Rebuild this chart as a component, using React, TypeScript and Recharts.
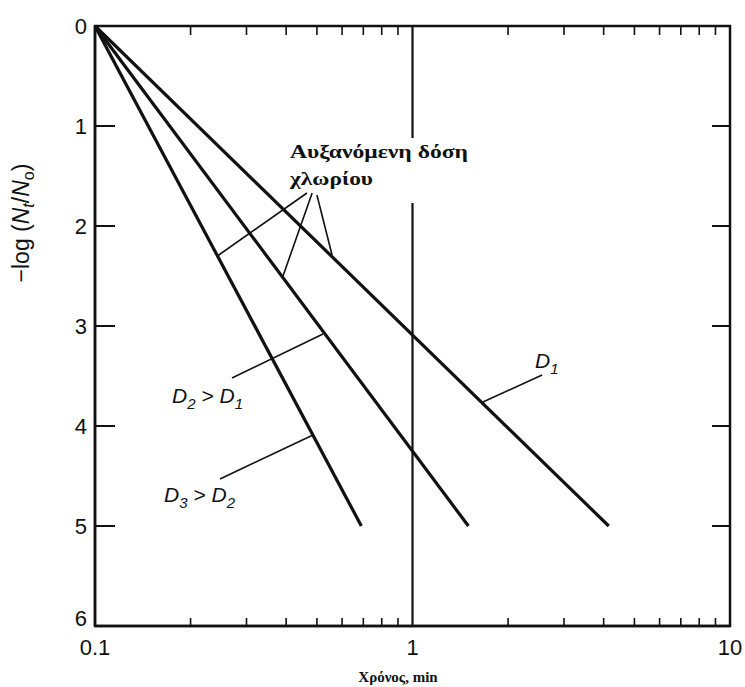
import React from 'react';
import * as R from 'recharts';
import { LineChart, Line, XAxis, YAxis, ReferenceLine } from 'recharts';

// Data (time in min, -log(Nt/No))
const seriesD1 = [{ x: 0.1, y: 0 }, { x: 4.15, y: 5 }];
const seriesD2 = [{ x: 0.1, y: 0 }, { x: 1.5, y: 5 }];
const seriesD3 = [{ x: 0.1, y: 0 }, { x: 0.69, y: 5 }];

const xDomain = [0.1, 10];
const xMajorTicks = [0.1, 1, 10];
const xAllTicks = [0.1, 0.2, 0.3, 0.4, 0.5, 0.6, 0.7, 0.8, 0.9, 1, 2, 3, 4, 5, 6, 7, 8, 9, 10];
const xMinorTicks = [0.2, 0.3, 0.4, 0.5, 0.6, 0.7, 0.8, 0.9, 2, 3, 4, 5, 6, 7, 8, 9];
const yTicks = [0, 1, 2, 3, 4, 5, 6];
const yInnerTicks = [1, 2, 3, 4, 5];

// Annotation pointer segments (data coordinates)
const pointerDose = [
  [{ x: 0.465, y: 1.67 }, { x: 0.243, y: 2.3 }],
  [{ x: 0.483, y: 1.67 }, { x: 0.391, y: 2.5 }],
  [{ x: 0.5, y: 1.69 }, { x: 0.558, y: 2.29 }],
];
const pointerD2 = [{ x: 0.27, y: 3.52 }, { x: 0.5225, y: 3.08 }];
const pointerD3 = [{ x: 0.2475, y: 4.53 }, { x: 0.486, y: 4.09 }];
const pointerD1 = [{ x: 1.667, y: 3.76 }, { x: 2.56, y: 3.49 }];
const refLineUpper = [{ x: 1, y: 0 }, { x: 1, y: 1.12 }];
const refLineLower = [{ x: 1, y: 1.77 }, { x: 1, y: 6 }];
const rightTickSegs = yInnerTicks.map((v) => [{ x: 8.78, y: v }, { x: 10, y: v }]);

const SANS = '"Liberation Sans", Arial, sans-serif';
const SERIF = '"Liberation Serif", "Times New Roman", serif';
const TICK_FS = 22;

const usePlotAreaHook: any = (R as any).usePlotArea;
const useXScaleHook: any = (R as any).useXAxisScale;

// Frame (top/right edges) and inside top ticks, placed from the chart's own plot area
const PlotFrame = () => {
  const area = usePlotAreaHook ? usePlotAreaHook() : null;
  const xScale = useXScaleHook ? useXScaleHook('bottom') : null;
  if (!area) return null;
  const toX = (v: number) => {
    const s = typeof xScale === 'function' ? xScale(v) : NaN;
    if (typeof s === 'number' && isFinite(s)) return s;
    return area.x + (area.width * Math.log10(v / xDomain[0])) / Math.log10(xDomain[1] / xDomain[0]);
  };
  return (
    <g>
      <rect x={area.x} y={area.y} width={area.width} height={area.height} fill="none" stroke="#111" strokeWidth={2.5} />
      {xMinorTicks.map((v) => (
        <line key={v} x1={toX(v)} y1={area.y} x2={toX(v)} y2={area.y + 9} stroke="#111" strokeWidth={1.6} />
      ))}
    </g>
  );
};

const BottomTick = (props: any) => {
  const { x, y, payload } = props;
  const v = payload.value;
  if (xMajorTicks.includes(v)) {
    return (
      <text x={x} y={y + 29} textAnchor="middle" fontFamily={SANS} fontSize={TICK_FS} fill="#111">
        {String(v)}
      </text>
    );
  }
  return <line x1={x} y1={y} x2={x} y2={y - 8} stroke="#111" strokeWidth={1.6} />;
};

const LeftTick = (props: any) => {
  const { x, y, payload } = props;
  const v = payload.value;
  const dyShift = v === 6 ? -8 : 0;
  return (
    <g>
      <text x={x - 8} y={y + dyShift} dy="0.36em" textAnchor="end" fontFamily={SANS} fontSize={TICK_FS} fill="#111">
        {String(v)}
      </text>
      {v > 0 && v < 6 ? <line x1={x} y1={y} x2={x + 20} y2={y} stroke="#111" strokeWidth={2} /> : null}
    </g>
  );
};

export default function App() {
  const lineProps = {
    type: 'linear' as const,
    dataKey: 'y',
    stroke: '#111',
    strokeWidth: 3.2,
    dot: false,
    activeDot: false,
    isAnimationActive: false,
  };
  return (
    <div style={{ position: 'absolute', left: 0, top: 0, background: '#fff' }}>
      <LineChart width={745} height={687} margin={{ top: 26, right: 15, bottom: 0, left: 0 }}>
        <XAxis
          xAxisId="bottom"
          type="number"
          dataKey="x"
          scale="log"
          domain={xDomain}
          allowDataOverflow
          ticks={xAllTicks}
          interval={0}
          height={61}
          tickSize={0}
          tickMargin={0}
          tickLine={false}
          tick={<BottomTick />}
          axisLine={{ stroke: '#111', strokeWidth: 2.5 }}
        />
        <YAxis
          yAxisId="left"
          type="number"
          domain={[0, 6]}
          reversed
          ticks={yTicks}
          interval={0}
          width={95}
          tickSize={0}
          tickMargin={0}
          tickLine={false}
          tick={<LeftTick />}
          axisLine={{ stroke: '#111', strokeWidth: 2.5 }}
        />

        <PlotFrame />

        {rightTickSegs.map((seg, i) => (
          <ReferenceLine key={'rt' + i} xAxisId="bottom" yAxisId="left" segment={seg} stroke="#111" strokeWidth={2} ifOverflow="visible" />
        ))}

        <ReferenceLine xAxisId="bottom" yAxisId="left" segment={refLineUpper} stroke="#111" strokeWidth={2.2} ifOverflow="visible" />
        <ReferenceLine xAxisId="bottom" yAxisId="left" segment={refLineLower} stroke="#111" strokeWidth={2.2} ifOverflow="visible" />

        {pointerDose.map((seg, i) => (
          <ReferenceLine key={'pd' + i} xAxisId="bottom" yAxisId="left" segment={seg} stroke="#111" strokeWidth={1.6} />
        ))}
        <ReferenceLine xAxisId="bottom" yAxisId="left" segment={pointerD2} stroke="#111" strokeWidth={1.6} />
        <ReferenceLine xAxisId="bottom" yAxisId="left" segment={pointerD3} stroke="#111" strokeWidth={1.6} />
        <ReferenceLine xAxisId="bottom" yAxisId="left" segment={pointerD1} stroke="#111" strokeWidth={1.6} />

        <Line {...lineProps} xAxisId="bottom" yAxisId="left" data={seriesD1} name="D1" />
        <Line {...lineProps} xAxisId="bottom" yAxisId="left" data={seriesD2} name="D2" />
        <Line {...lineProps} xAxisId="bottom" yAxisId="left" data={seriesD3} name="D3" />

        <text x={290} y={158} fontFamily={SERIF} fontWeight="bold" fontSize={19} fill="#111" textLength={178} lengthAdjust="spacingAndGlyphs">
          Αυξανόμενη δόση
        </text>
        <text x={290} y={185} fontFamily={SERIF} fontWeight="bold" fontSize={19} fill="#111" textLength={83} lengthAdjust="spacingAndGlyphs">
          χλωρίου
        </text>

        <text x={172} y={403} fontFamily={SANS} fontStyle="italic" fontSize={21} fill="#111">
          D<tspan fontSize={15} dy={6}>2</tspan>
          <tspan dy={-6}> &gt; D</tspan>
          <tspan fontSize={15} dy={6}>1</tspan>
        </text>
        <text x={164} y={502} fontFamily={SANS} fontStyle="italic" fontSize={21} fill="#111">
          D<tspan fontSize={15} dy={6}>3</tspan>
          <tspan dy={-6}> &gt; D</tspan>
          <tspan fontSize={15} dy={6}>2</tspan>
        </text>
        <text x={535} y={368} fontFamily={SANS} fontStyle="italic" fontSize={21} fill="#111">
          D<tspan fontSize={15} dy={6}>1</tspan>
        </text>

        <text
          transform="translate(29, 223) rotate(-90)"
          textAnchor="middle"
          fontFamily={SANS}
          fontSize={23}
          fill="#111"
        >
          −log (<tspan fontStyle="italic">N</tspan>
          <tspan fontStyle="italic" fontSize={16} dy={5}>t</tspan>
          <tspan dy={-5}>/</tspan>
          <tspan fontStyle="italic">N</tspan>
          <tspan fontSize={16} dy={5}>o</tspan>
          <tspan dy={-5}>)</tspan>
        </text>

        <text x={398} y={682} textAnchor="middle" fontFamily={SERIF} fontWeight="bold" fontSize={15} fill="#111">
          Χρόνος, min
        </text>
      </LineChart>
    </div>
  );
}
